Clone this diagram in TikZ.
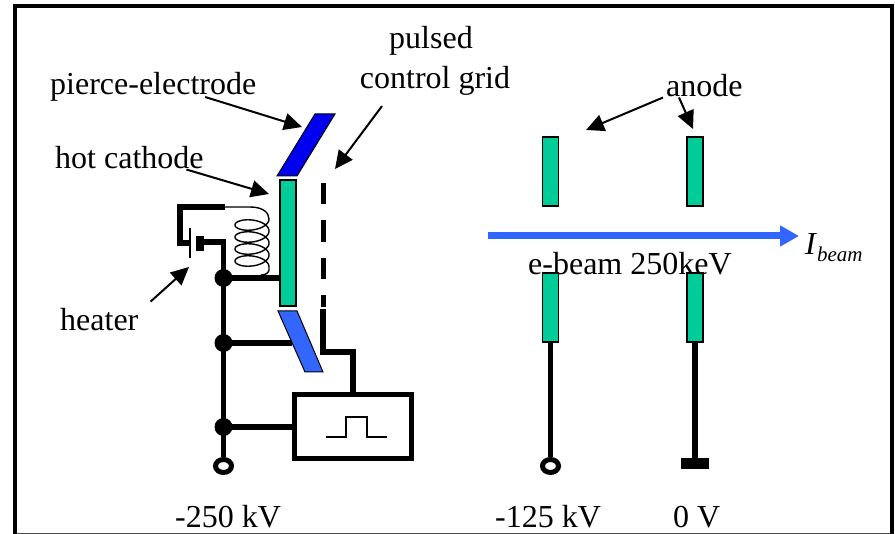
\documentclass[tikz,border=0pt]{standalone}
\usepackage{fontspec}
\setmainfont{Liberation Serif}
\definecolor{platecol}{HTML}{00CC99}
\definecolor{beamcol}{HTML}{3366FF}
\definecolor{piercecol}{HTML}{0000EE}
\usetikzlibrary{arrows.meta}
\usetikzlibrary{shapes.geometric}
\tikzset{
  lab/.style={anchor=base west, inner sep=0pt, font=\fontsize{32}{34}\selectfont},
  plate/.style={draw=black, line width=1.2pt, fill=platecol, inner sep=0pt, minimum width=16pt},
  wire/.style={line width=5.5pt},
  pointer/.style={line width=2pt, -{Triangle[length=18pt,width=17pt]}},
  junction/.style={circle, fill=black, inner sep=0pt, minimum size=18pt},
  terminal/.style={ellipse, draw=black, fill=white, line width=5pt, inner sep=0pt, minimum width=16pt, minimum height=13pt},
}
\begin{document}
\begin{tikzpicture}[x=1pt,y=-1pt,>=latex]
\useasboundingbox (0,0) rectangle (895,534);

% The frame round the whole diagram
\draw [line width=0.8pt, color=black!70] (15,533.4) -- (892,533.4);
\draw [line width=4pt] (15,534) -- (15,6) -- (892,6) -- (892,534);

% Electrodes on the gun side
\draw [fill=piercecol, line width=1pt] (315,114) -- (335,114) -- (297,176) -- (277,176) -- cycle;
\draw [fill=beamcol, line width=1pt] (278,311) -- (297,311) -- (323,372) -- (305,372) -- cycle;
\node [plate, minimum height=126pt] (cathode) at (288,243) {};

% Plates of the two anodes
\foreach \nam/\xx in {anodeA/550.5, anodeB/695} {
  \node [plate, minimum height=69pt] (\nam up) at (\xx,171.5) {};
  \node [plate, minimum height=69pt] (\nam low) at (\xx,307.5) {};
}

% Pulsed grid, dashes then the lead down to the pulser
\foreach \yy/\hh in {183/21,220/22,258/21,295/12} {
  \fill (320.5,\yy) rectangle (325.5,\yy+\hh);
}
\node [draw, line width=5pt, minimum width=117pt, minimum height=64pt, inner sep=0pt] (pulser) at (353,426.5) {};
\coordinate (gridend) at (323,309);
\draw [wire] (gridend) -- (323,352) -- (353,352) -- (pulser.north);
\draw [line width=1.5pt] (326,437) -- (346,437) -- (346,417) -- (367,417) -- (367,437) -- (387,437);

% Heater circuit with battery and coil
\node [junction] (jA) at (223.5,278) {};
\node [junction] (jB) at (223.5,343) {};
\node [junction] (jC) at (223.5,427) {};
\node [terminal] (termA) at (223.5,466) {};
\coordinate (batleft) at (190,243);
\coordinate (batright) at (204,242);
\draw [wire] (batleft) -- (180,243) -- (180,207) -- (225,207);
\draw [wire] (batright) -- (223.5,242) -- (jA.center) -- (jB.center) -- (jC.center) -- (termA);
\draw [wire] (jA.center) -- (cathode.west |- jA);
\draw [wire] (jB.center) -- (292,343);
\draw [wire] (jC.center) -- (pulser.west |- jC);
\draw [line width=1.3pt] (190,228) -- (190,258);
\fill (196,236) rectangle (204,251);
\draw [line width=1.4pt] (225,207) -- (250,207) .. controls (262,207) and (269,212) .. (269,219);
\draw [line width=1.4pt, domain=0:1440, samples=240, smooth]
  plot ({252+17*cos(\x)}, {219+\x/360*12+8*sin(\x)});
\draw [line width=1.4pt] (269,267) .. controls (270,272) and (267,275) .. (261,275);

% Anode leads and their ends
\node [terminal] (termB) at (550.5,466) {};
\node [fill=black, minimum width=28pt, minimum height=11pt, inner sep=0pt] (ground) at (695,463.5) {};
\draw [wire] (anodeAlow) -- (termB);
\draw [wire] (anodeBlow) -- (ground);

% The beam
\coordinate (beamstart) at (488,236);
\coordinate (beamend) at (799,236);
\draw [draw=beamcol, line width=7pt, -{Triangle[length=19pt,width=20pt]}] (beamstart) -- (beamend);

% Labels and the arrows that leave them
\node [lab] (piercelab) at (50,95) {pierce-electrode};
\node [lab] (cathodelab) at (55,169) {hot cathode};
\node [lab] (heaterlab) at (60,331) {heater};
\node [lab, anchor=base] (pulsedlab) at (431,49) {pulsed};
\node [lab, anchor=base] (gridlab) at (435,89) {control grid};
\node [lab] (anodelab) at (666,97) {anode};
\node [lab] (beamlab) at (528,274.5) {e-beam 250keV};
\node [lab] (currlab) at (805,255) {\textit{I}\raisebox{-7pt}{\fontsize{21}{23}\selectfont\textit{beam}}};
\node [lab] (voltA) at (175,528) {-250 kV};
\node [lab] (voltB) at (495,528) {-125 kV};
\node [lab] (voltC) at (673,528) {0 V};

\coordinate (piercetip) at (302,127);
\coordinate (cathodetip) at (269,194);
\coordinate (gridtip) at (335,169);
\coordinate (heatertip) at (189,267);
\coordinate (anodeAtip) at (586,130);
\coordinate (anodeBtip) at (693,129);
\draw [pointer] ([xshift=52pt,yshift=5pt]piercelab.south) -- (piercetip);
\draw [pointer] ([xshift=57pt]cathodelab.south) -- (cathodetip);
\draw [pointer] ([xshift=-53pt,yshift=-10pt]gridlab.south) -- (gridtip);
\draw [pointer] ([xshift=12pt,yshift=7pt]heaterlab.north east) -- (heatertip);
\draw [pointer] ([xshift=-3pt]anodelab.south west) -- (anodeAtip);
\draw [pointer] ([xshift=13pt]anodelab.south west) -- (anodeBtip);

\end{tikzpicture}
\end{document}
